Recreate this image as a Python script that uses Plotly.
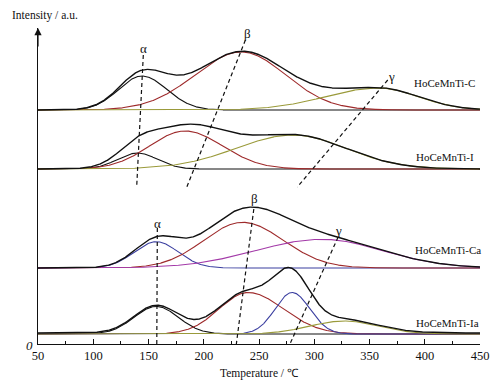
import numpy as np
import plotly.graph_objects as go

# ---------------- data ----------------
temperature_ticks = [50, 100, 150, 200, 250, 300, 350, 400, 450]
sample_names = ["HoCeMnTi-C", "HoCeMnTi-I", "HoCeMnTi-Ca", "HoCeMnTi-Ia"]
sample_offsets = [234, 175, 76, 10]          # vertical stacking offset (a.u.)
sum_extra_offset = [0, 0, 0, 1]

# deconvoluted peaks: centre (°C), height (a.u.), left/right half-widths (°C)
C_centre = [144, 234, 358]
C_height = [34, 58, 22]
C_wl = [21, 42, 48]
C_wr = [22.6, 40, 36]
C_colour = ["#111111", "#9E2A2B", "#9A9A3A"]

I_centre = [140, 183, 281]
I_height = [16, 38, 34]
I_wl = [18, 32, 52]
I_wr = [18, 34, 48]
I_colour = ["#111111", "#9E2A2B", "#9A9A3A"]

Ca_centre = [157, 235, 307]
Ca_height = [26.3, 45.7, 28.7]
Ca_wl = [20, 35, 60]
Ca_wr = [20, 37, 55]
Ca_colour = ["#3B3FA0", "#9E2A2B", "#A33AA8"]

Ia_centre = [157, 240, 280, 327]
Ia_height = [27.6, 41.5, 41.5, 13]
Ia_wl = [20, 26, 15.5, 31]
Ia_wr = [20, 32, 16, 31]
Ia_colour = ["#111111", "#9E2A2B", "#3B3FA0", "#9A9A3A"]

# dashed guide lines (temperature, intensity) and their labels
guide_T = [[145.3, 139.3], [237.7, 184.7], [366.5, 284.7],
           [158.0, 157.5], [245.3, 229.5], [321.6, 278.0]]
guide_y = [[289, 157], [304, 157], [264, 157],
           [116, 0], [135, 0], [107, 0]]
guide_label = ["α", "β", "γ", "α", "β", "γ"]
guide_label_T = [145.9, 239.5, 369.5, 158.0, 246.0, 321.6]
guide_label_y = [296, 311, 268, 121, 146, 114]

label_T = [418, 418, 421, 421]
label_y = [261, 187, 94, 21]

# ---------------- figure ----------------
T = np.linspace(50, 450, 1601)


def peak(c, h, wl, wr):
    w = np.where(T < c, wl, wr)
    return h * np.exp(-((T - c) ** 2) / (2 * w ** 2))


samples = [
    (C_centre, C_height, C_wl, C_wr, C_colour),
    (I_centre, I_height, I_wl, I_wr, I_colour),
    (Ca_centre, Ca_height, Ca_wl, Ca_wr, Ca_colour),
    (Ia_centre, Ia_height, Ia_wl, Ia_wr, Ia_colour),
]

fig = go.Figure()
for k, (cs, hs, wls, wrs, cols) in enumerate(samples):
    base = sample_offsets[k]
    total = np.zeros_like(T)
    for c, h, wl, wr, col in zip(cs, hs, wls, wrs, cols):
        p = peak(c, h, wl, wr)
        total += p
        fig.add_trace(go.Scatter(x=T, y=base + p, mode="lines",
                                 line=dict(color=col, width=1.1),
                                 hoverinfo="skip", showlegend=False))
    fig.add_trace(go.Scatter(x=T, y=base + sum_extra_offset[k] + total, mode="lines",
                             line=dict(color="#111111", width=1.4),
                             hoverinfo="skip", showlegend=False))

for gx, gy in zip(guide_T, guide_y):
    fig.add_trace(go.Scatter(x=gx, y=gy, mode="lines",
                             line=dict(color="#111111", width=1.2, dash="4px,3px"),
                             hoverinfo="skip", showlegend=False))

serif = "Liberation Serif"
for t, x, y in zip(guide_label, guide_label_T, guide_label_y):
    fig.add_annotation(x=x, y=y, text=t, showarrow=False,
                       font=dict(family=serif, size=13, color="#111111"))

for name, x, y in zip(sample_names, label_T, label_y):
    fig.add_annotation(x=x, y=y, text=name, showarrow=False,
                       font=dict(family=serif, size=11, color="#111111"))

# y-axis arrow
fig.add_annotation(x=50, y=316, ax=50, ay=296, xref="x", yref="y",
                   axref="x", ayref="y", text="", showarrow=True,
                   arrowhead=2, arrowsize=1.2, arrowwidth=1.2, arrowcolor="#111111")
fig.add_annotation(x=50, y=316, xref="x", yref="y", xanchor="center", yanchor="bottom",
                   text="Intensity / a.u.", showarrow=False, yshift=4, xshift=7,
                   font=dict(family=serif, size=11.5, color="#111111"))
fig.add_annotation(x=50, y=0, xref="x", yref="y", xanchor="right", yanchor="middle",
                   text="<i>0</i>", showarrow=False, xshift=-3, yshift=-1,
                   font=dict(family=serif, size=13, color="#111111"))

fig.update_layout(
    width=502, height=388,
    margin=dict(l=38, r=22, t=28, b=44),
    paper_bgcolor="white", plot_bgcolor="white",
    showlegend=False,
    font=dict(family=serif, color="#111111"),
)
fig.update_xaxes(
    range=[50, 450], tickvals=temperature_ticks,
    ticks="inside", ticklen=5, tickwidth=1, tickcolor="#111111",
    minor=dict(ticks="inside", ticklen=3, tickwidth=1, tickcolor="#111111", dtick=25, tick0=50),
    showline=True, linecolor="#111111", linewidth=1.3,
    showgrid=False, zeroline=False, automargin=False,
    tickfont=dict(family=serif, size=12.5, color="#111111"),
    title=dict(text="Temperature / ℃", font=dict(family=serif, size=11.5, color="#111111"),
               standoff=6),
)
fig.update_yaxes(
    range=[0, 316], showticklabels=False, ticks="",
    showline=True, linecolor="#111111", linewidth=1.3,
    showgrid=False, zeroline=False, automargin=False,
)

fig.write_html("out.html", config={"displayModeBar": False},
               post_script="document.body.style.margin='0';document.body.style.overflow='hidden';")
